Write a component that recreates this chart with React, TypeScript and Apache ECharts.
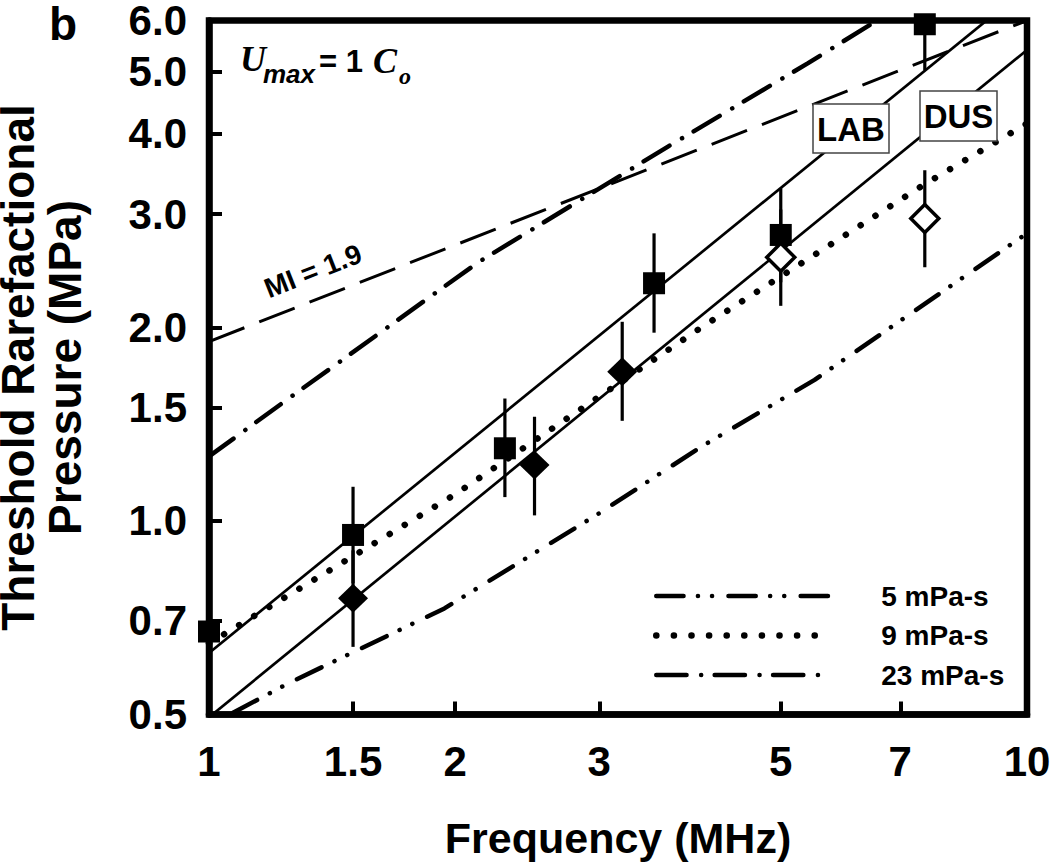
import React, { useEffect, useRef } from "react";
import * as echarts from "echarts";

// ---- axis ticks ----
const xTickValues = [1, 1.5, 2, 3, 5, 7, 10];
const xTickLabels = ["1", "1.5", "2", "3", "5", "7", "10"];
const yTickValues = [0.5, 0.7, 1.0, 1.5, 2.0, 3.0, 4.0, 5.0, 6.0];
const yTickLabels = ["0.5", "0.7", "1.0", "1.5", "2.0", "3.0", "4.0", "5.0", "6.0"];

// ---- measured points (frequency MHz, pressure MPa) ----
const labFreq = [1.0, 1.5, 2.3, 3.5, 5.0, 7.5];
const labP = [0.673, 0.951, 1.297, 2.342, 2.784, 5.92];
const labLo = [null, 0.8, 1.089, 1.962, 2.35, 5.02];
const labHi = [null, 1.13, 1.55, 2.8, 3.29, 6.0];

const dusFreq = [1.5, 2.5, 3.2];
const dusP = [0.758, 1.222, 1.706];
const dusLo = [0.637, 1.02, 1.431];
const dusHi = [0.9, 1.452, 2.04];

const dusOpenFreq = [5.0, 7.5];
const dusOpenP = [2.57, 2.954];
const dusOpenLo = [2.16, 2.48];
const dusOpenHi = [3.05, 3.51];

// ---- fitted / model curves ----
const labFitFreq = [1, 10];
const labFitP = [0.623, 6.75];
const dusFitFreq = [1, 10];
const dusFitP = [0.495, 5.4];
const miFreq = [1, 10];
const miP = [1.9, 6.0];
const visc5Freq = [1.07, 1.25, 1.94, 3.0, 4.0, 5.5, 10];
const visc5P = [0.503, 0.559, 0.731, 1.028, 1.305, 1.657, 2.8];
const visc9Freq = [1, 2, 4, 7.5, 10];
const visc9P = [0.645, 1.1, 2.0, 3.34, 4.15];
const visc23Freq = [1, 1.26, 1.88, 2.14, 3.64, 5.4, 7];
const visc23P = [1.26, 1.56, 2.25, 2.53, 3.82, 5.15, 6.32];

const SANS = '"Liberation Sans", Arial, Helvetica, sans-serif';
const SERIF = '"Liberation Serif", "Times New Roman", serif';

const lg = (v: number) => Math.log10(v);
const pairs = (fs: number[], ps: number[]) => fs.map((f, i) => [lg(f), lg(ps[i])]);

function errData(fs: number[], lo: (number | null)[], hi: (number | null)[]) {
  const out: number[][] = [];
  fs.forEach((f, i) => {
    const l = lo[i];
    const h = hi[i];
    if (l != null && h != null) out.push([lg(f), lg(l), lg(h)]);
  });
  return out;
}

function fmt(values: number[], labels: string[]) {
  return (v: number) => {
    const i = values.findIndex((t) => Math.abs(lg(t) - v) < 1e-6);
    return i >= 0 ? labels[i] : "";
  };
}

export default function App() {
  const ref = useRef<HTMLDivElement>(null);

  useEffect(() => {
    if (!ref.current) return;
    const chart = echarts.init(ref.current, undefined, { renderer: "svg" });

    const xCustom = xTickValues.map(lg);
    const yCustom = yTickValues.map(lg);

    const errors = [
      ...errData(labFreq, labLo, labHi),
      ...errData(dusFreq, dusLo, dusHi),
      ...errData(dusOpenFreq, dusOpenLo, dusOpenHi),
    ];

    const txt = (
      text: string,
      x: number,
      y: number,
      size: number,
      opts: any = {}
    ) => ({
      type: "text",
      x,
      y,
      z: 20,
      rotation: opts.rotation || 0,
      style: {
        text,
        fill: "#000",
        fontSize: size,
        fontWeight: "bold",
        fontStyle: opts.italic ? "italic" : "normal",
        fontFamily: opts.family || SANS,
        align: opts.align || "left",
        verticalAlign: "middle",
        textAlign: opts.align || "left",
        textVerticalAlign: "middle",
        lineHeight: opts.lineHeight,
      },
    });

    const option: any = {
      animation: false,
      backgroundColor: "#fff",
      grid: {
        left: 209,
        right: 23,
        top: 20.5,
        bottom: 149.5,
        containLabel: false,
        outerBoundsMode: "none",
        show: true,
        borderColor: "#000",
        borderWidth: 6.5,
        backgroundColor: "transparent",
      },
      xAxis: {
        type: "value",
        min: lg(xTickValues[0]),
        max: lg(xTickValues[xTickValues.length - 1]),
        axisLine: { show: true, onZero: false, lineStyle: { color: "#000", width: 6.5 } },
        axisTick: {
          show: true,
          inside: true,
          length: 13,
          customValues: xCustom,
          lineStyle: { color: "#000", width: 4 },
        },
        axisLabel: {
          customValues: xCustom,
          formatter: fmt(xTickValues, xTickLabels),
          color: "#000",
          fontSize: 42,
          fontWeight: "bold",
          fontFamily: SANS,
          lineHeight: 36,
          margin: 29,
        },
        splitLine: { show: false },
      },
      yAxis: {
        type: "value",
        min: lg(yTickValues[0]),
        max: lg(yTickValues[yTickValues.length - 1]),
        axisLine: { show: true, onZero: false, lineStyle: { color: "#000", width: 6.5 } },
        axisTick: {
          show: true,
          inside: true,
          length: 13,
          customValues: yCustom,
          lineStyle: { color: "#000", width: 4 },
        },
        axisLabel: {
          customValues: yCustom,
          formatter: fmt(yTickValues, yTickLabels),
          color: "#000",
          fontSize: 42,
          fontWeight: "bold",
          fontFamily: SANS,
          lineHeight: 34,
          margin: 22,
        },
        splitLine: { show: false },
      },
      legend: {
        data: ["5 mPa-s", "9 mPa-s", "23 mPa-s"],
        orient: "vertical",
        left: 648,
        top: 576,
        itemWidth: 172,
        itemHeight: 14,
        itemGap: 9.5,
        selectedMode: false,
        itemStyle: { opacity: 0 },
        lineStyle: { width: "inherit" },
        textStyle: {
          color: "#000",
          fontSize: 28,
          fontWeight: "bold",
          fontFamily: SANS,
          lineHeight: 30,
          padding: [0, 0, 0, 48],
        },
      },
      series: [
        {
          name: "5 mPa-s",
          type: "line",
          data: pairs(visc5Freq, visc5P),
          symbol: "none",
          silent: true,
          z: 3,
          lineStyle: {
            color: "#000",
            width: 4.5,
            type: [27.3, 14.35, 0.1, 14, 0.1, 16.35],
            cap: "round",
          },
          itemStyle: { color: "#000" },
        },
        {
          name: "9 mPa-s",
          type: "line",
          data: pairs(visc9Freq, visc9P),
          symbol: "none",
          silent: true,
          z: 3,
          lineStyle: { color: "#000", width: 6.5, type: [0.1, 17.5], cap: "round" },
          itemStyle: { color: "#000" },
        },
        {
          name: "23 mPa-s",
          type: "line",
          data: pairs(visc23Freq, visc23P),
          symbol: "none",
          silent: true,
          z: 3,
          lineStyle: {
            color: "#000",
            width: 4.5,
            type: [30.3, 14.55, 0.1, 13.45],
            cap: "round",
          },
          itemStyle: { color: "#000" },
        },
        {
          name: "MI = 1.9",
          type: "line",
          data: pairs(miFreq, miP),
          symbol: "none",
          silent: true,
          z: 3,
          lineStyle: { color: "#000", width: 3, type: [38, 16] },
        },
        {
          name: "LAB fit",
          type: "line",
          data: pairs(labFitFreq, labFitP),
          symbol: "none",
          silent: true,
          z: 3,
          lineStyle: { color: "#000", width: 2.7, type: "solid" },
        },
        {
          name: "DUS fit",
          type: "line",
          data: pairs(dusFitFreq, dusFitP),
          symbol: "none",
          silent: true,
          z: 3,
          lineStyle: { color: "#000", width: 2.7, type: "solid" },
        },
        {
          name: "error bars",
          type: "custom",
          silent: true,
          z: 4,
          data: errors,
          encode: { x: 0, y: [1, 2] },
          renderItem: (params: any, api: any) => {
            const x = api.value(0);
            const p1 = api.coord([x, api.value(1)]);
            const p2 = api.coord([x, api.value(2)]);
            return {
              type: "line",
              shape: { x1: p1[0], y1: p1[1], x2: p2[0], y2: p2[1] },
              style: { stroke: "#000", lineWidth: 3.2 },
            };
          },
        },
        {
          name: "LAB",
          type: "scatter",
          data: pairs(labFreq, labP),
          symbol: "rect",
          symbolSize: 22,
          silent: true,
          z: 5,
          itemStyle: { color: "#000", opacity: 1 },
        },
        {
          name: "DUS",
          type: "scatter",
          data: pairs(dusFreq, dusP),
          symbol: "diamond",
          symbolSize: [30, 29],
          silent: true,
          z: 5,
          itemStyle: { color: "#000", opacity: 1 },
        },
        {
          name: "DUS open",
          type: "scatter",
          data: pairs(dusOpenFreq, dusOpenP),
          symbol: "diamond",
          symbolSize: [28, 28],
          silent: true,
          z: 5,
          itemStyle: { color: "#fff", borderColor: "#000", borderWidth: 3.5, opacity: 1 },
        },
      ],
      graphic: [
        txt("b", 49, 24, 46, { lineHeight: 40 }),
        txt("Threshold Rarefactional", 18, 367.5, 46, {
          rotation: Math.PI / 2,
          align: "center",
          lineHeight: 36,
        }),
        txt("Pressure (MPa)", 65, 367.5, 46, {
          rotation: Math.PI / 2,
          align: "center",
          lineHeight: 40,
        }),
        txt("Frequency (MHz)", 618, 838, 43, { align: "center" }),
        txt("U", 240, 59, 36, { italic: true, family: SERIF }),
        txt("max", 263, 74, 26, { italic: true }),
        txt("= 1", 319, 61, 31),
        txt("C", 373, 61, 36, { italic: true, family: SERIF }),
        txt("o", 399, 76, 24, { italic: true, family: SERIF }),
        txt("MI = 1.9", 313, 271, 28, { rotation: 0.3735, align: "center" }),
        {
          type: "rect",
          z: 19,
          shape: { x: 813, y: 104, width: 76, height: 49 },
          style: { fill: "#fff", stroke: "#444", lineWidth: 1.5 },
        },
        txt("LAB", 851, 129, 33, { align: "center" }),
        {
          type: "rect",
          z: 19,
          shape: { x: 920, y: 91, width: 77, height: 50 },
          style: { fill: "#fff", stroke: "#444", lineWidth: 1.5 },
        },
        txt("DUS", 958.5, 116, 33, { align: "center" }),
      ],
    };

    chart.setOption(option);
    return () => chart.dispose();
  }, []);

  return (
    <div
      ref={ref}
      style={{ position: "fixed", left: 0, top: 0, width: 1050, height: 864 }}
    />
  );
}
